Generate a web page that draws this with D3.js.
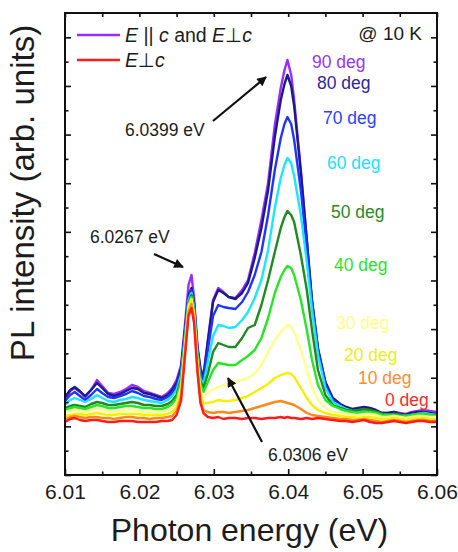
<!DOCTYPE html>
<html>
<head>
<meta charset="utf-8">
<script src="https://cdn.jsdelivr.net/npm/d3@7"></script>
<style>
  body { margin: 0; background: #fff; }
  text { font-family: "Liberation Sans", Arial, "DejaVu Sans", sans-serif; fill: #1c1c1c; }
</style>
</head>
<body>
<div id="chart"></div>
<script>
'use strict';
// photon energy (eV), shared by all spectra
var energy = [6.0100,6.0107,6.0113,6.0120,6.0127,6.0135,6.0143,6.0150,6.0158,6.0166,
  6.0174,6.0182,6.0190,6.0198,6.0206,6.0214,6.0222,6.0230,6.0238,6.0244,
  6.0250,6.0256,6.0262,6.0266,6.0270,6.02735,6.0278,6.0282,6.0286,
  6.0292,6.0299,6.0306,6.0313,6.0320,6.0329,6.0338,6.0346,6.0355,6.0364,6.0373,6.0382,6.0390,6.0395,6.0399,
  6.0404,6.0408,6.0417,6.0425,6.0432,6.0440,6.0450,6.0460,6.0470,
  6.0478,6.0486,6.0494,6.0502,6.0510,6.0518,6.0526,6.0534,6.0542,6.0550,6.0558,6.0566,6.0574,6.0582,6.0590,6.0600];

// PL intensity (arb. units) per polarization angle
var deg90 = [152,168,174,166,156,170,190,178,164,162,166,172,180,176,168,164,160,156,164,174,
  190,220,314,380,400,354,260,214,198,
  270,350,374,366,356,354,370,390,444,510,584,700,774,810,830,
  800,750,610,470,344,250,184,150,140,
  134,130,130,134,132,128,124,124,126,124,122,126,128,130,128,126];
var deg80 = [156,170,176,168,158,170,184,174,162,158,162,168,174,172,164,162,158,154,160,170,
  184,214,300,358,374,344,254,210,196,
  266,346,370,364,356,352,364,384,434,494,570,676,750,782,800,
  778,738,606,470,350,254,186,154,142,
  136,132,134,136,134,130,124,124,126,122,120,124,126,126,124,122];
var deg70 = [148,160,166,158,150,160,172,164,156,154,158,162,168,164,158,156,152,150,156,164,
  178,208,294,354,370,340,250,204,190,
  250,318,340,336,334,332,346,366,400,446,520,610,674,702,716,
  702,670,570,454,346,250,180,150,138,
  132,128,126,130,128,124,120,118,122,116,114,118,122,124,122,120];
var deg60 = [140,150,154,150,146,152,160,154,148,146,150,152,156,154,150,148,146,144,150,158,
  170,200,288,350,364,334,244,194,180,
  226,278,300,298,294,296,310,326,354,390,450,534,594,620,634,
  624,598,520,426,330,240,174,146,138,
  132,128,128,130,128,126,122,120,122,120,118,120,122,124,122,120];
var deg50 = [134,138,140,138,136,142,146,144,140,140,142,144,146,144,140,140,138,138,142,148,
  160,192,282,344,360,328,238,188,174,
  202,246,264,260,256,256,274,294,300,340,390,446,494,516,528,
  520,506,440,370,290,210,160,140,134,
  130,128,130,132,130,126,122,120,122,120,118,120,122,122,120,120];
var deg40 = [130,134,136,134,132,136,140,138,134,134,136,138,138,136,134,134,132,132,136,142,
  154,186,278,342,356,324,234,182,166,
  186,210,224,222,220,220,230,238,250,274,314,364,396,410,418,
  414,400,350,290,230,180,150,138,132,
  128,126,124,126,126,124,120,120,120,118,118,120,122,122,120,118];
var deg30 = [124,128,130,128,126,130,132,130,128,126,128,130,130,128,126,126,126,126,130,134,
  144,176,272,338,352,320,226,170,156,
  164,172,176,180,182,186,190,194,204,220,246,270,286,294,300,
  296,286,250,210,174,150,134,126,124,
  122,120,120,122,122,120,116,116,118,116,114,116,118,118,116,116];
var deg20 = [118,120,122,122,120,122,124,122,120,120,122,122,122,122,120,120,120,120,122,126,
  136,168,266,334,350,316,220,160,144,
  144,146,150,148,148,150,154,158,166,174,182,194,200,202,204,
  202,196,174,154,140,130,124,120,118,
  116,116,114,116,116,114,112,112,114,112,110,112,114,114,112,112];
var deg10 = [112,116,118,116,114,116,116,114,114,112,114,116,116,114,114,112,114,114,116,118,
  128,158,258,326,342,310,214,150,130,
  126,124,126,126,124,126,128,130,134,138,142,146,148,146,144,
  142,140,132,124,120,118,116,114,112,
  112,110,110,112,110,108,106,108,110,108,106,108,110,110,108,108];
var deg0 = [106,112,114,110,108,110,110,108,106,106,108,108,108,106,106,106,106,108,108,110,
  120,148,250,318,334,304,206,144,124,
  116,114,116,112,114,114,112,114,114,112,114,114,116,114,116,
  114,114,112,114,112,114,112,110,108,
  108,106,108,110,106,104,104,106,108,106,104,106,108,108,106,106];

var angles = [90, 80, 70, 60, 50, 40, 30, 20, 10, 0];
var spectra = [deg90, deg80, deg70, deg60, deg50, deg40, deg30, deg20, deg10, deg0];
var xTicks = [6.01, 6.02, 6.03, 6.04, 6.05, 6.06];
var xMinorTicks = [6.015, 6.025, 6.035, 6.045, 6.055];
var peakLabels = ['6.0399 eV', '6.0267 eV', '6.0306 eV'];

var lineColors = ['#9a2cff', '#1a1a8a', '#1f35ff', '#1ae6ff', '#1f8a1f', '#26e626', '#ffff8c', '#f5ef00', '#ff8a1c', '#ff1c1c'];
var labelColors = ['#9933ff', '#2a2a9c', '#2a44ff', '#22e0ff', '#2a8a2a', '#2ae62a', '#ffff80', '#eeee10', '#ff8c30', '#ff2a2a'];

// set the dimensions of the canvas
var W = 458, H = 552;
var margin = {top: 13, right: 21, bottom: 77, left: 65},
    width = W - margin.left - margin.right,
    height = H - margin.top - margin.bottom;

var x = d3.scaleLinear().domain([6.01, 6.06]).range([0, width]);
var y = d3.scaleLinear().domain([0, 924]).range([height, 0]);
var yStep = 924 / 19;
var yMajor = d3.range(0, 19, 2).map(function(i) { return i * yStep; });
var yMinor = d3.range(1, 19, 2).map(function(i) { return i * yStep; });

var svg = d3.select('#chart').append('svg')
    .attr('width', W)
    .attr('height', H)
  .append('g')
    .attr('transform', 'translate(' + margin.left + ',' + margin.top + ')');

svg.append('defs').append('clipPath').attr('id', 'clip')
  .append('rect').attr('width', width).attr('height', height);

svg.select('defs').append('marker')
    .attr('id', 'arrow')
    .attr('viewBox', '0 0 10 10')
    .attr('refX', 9).attr('refY', 5)
    .attr('markerWidth', 5).attr('markerHeight', 4.4)
    .attr('markerUnits', 'strokeWidth')
    .attr('orient', 'auto')
  .append('path')
    .attr('d', 'M0,0L10,5L0,10z')
    .attr('fill', '#111');

// spectra
var line = d3.line()
    .x(function(d) { return x(d[0]); })
    .y(function(d) { return y(d[1]); });

svg.append('g').attr('clip-path', 'url(#clip)')
  .selectAll('path')
  .data(spectra)
  .enter().append('path')
    .attr('d', function(vals) { return line(energy.map(function(e, i) { return [e, vals[i]]; })); })
    .attr('fill', 'none')
    .attr('stroke', function(d, i) { return lineColors[i]; })
    .attr('stroke-width', 2.4)
    .attr('stroke-linejoin', 'round');

// axes with inward ticks
function styleAxis(g) {
  g.select('.domain').remove();
  g.selectAll('.tick line').attr('stroke', '#111').attr('stroke-width', 1.6);
}
svg.append('g').attr('transform', 'translate(0,' + height + ')')
  .call(d3.axisBottom(x).tickValues(xTicks).tickSize(-6).tickPadding(9).tickFormat(d3.format('.2f')))
  .call(styleAxis)
  .selectAll('text').style('font-size', '21px').attr('fill', '#1c1c1c');
svg.append('g').attr('transform', 'translate(0,' + height + ')')
  .call(d3.axisBottom(x).tickValues(xMinorTicks).tickSize(-3.5).tickFormat(''))
  .call(styleAxis);
svg.append('g')
  .call(d3.axisTop(x).tickValues(xTicks.concat(xMinorTicks)).tickSize(-4).tickFormat(''))
  .call(styleAxis);
svg.append('g')
  .call(d3.axisLeft(y).tickValues(yMajor).tickSize(-6).tickFormat(''))
  .call(styleAxis);
svg.append('g')
  .call(d3.axisLeft(y).tickValues(yMinor).tickSize(-3.5).tickFormat(''))
  .call(styleAxis);
svg.append('g').attr('transform', 'translate(' + width + ',0)')
  .call(d3.axisRight(y).tickValues(yMajor).tickSize(-6).tickFormat(''))
  .call(styleAxis);
svg.append('g').attr('transform', 'translate(' + width + ',0)')
  .call(d3.axisRight(y).tickValues(yMinor).tickSize(-3.5).tickFormat(''))
  .call(styleAxis);

// frame
svg.append('rect')
    .attr('width', width).attr('height', height)
    .attr('fill', 'none').attr('stroke', '#111').attr('stroke-width', 2);

// axis titles
svg.append('text')
    .attr('x', x(6.0348)).attr('y', height + 66)
    .style('text-anchor', 'middle').style('font-size', '32px')
    .text('Photon energy (eV)');
svg.append('text')
    .attr('transform', 'translate(' + (-31) + ',' + (y(564)) + ') rotate(-90)')
    .style('text-anchor', 'middle').style('font-size', '33px')
    .text('PL intensity (arb. units)');

// angle labels
var angleLabelPos = [[6.0432, 814], [6.04387, 772], [6.04468, 702], [6.04522, 612], [6.04575, 514],
  [6.04616, 408], [6.04642, 292], [6.0475, 228], [6.04938, 182], [6.05301, 138]];
svg.selectAll('.angle')
  .data(angles)
  .enter().append('text')
    .attr('class', 'angle')
    .attr('x', function(d, i) { return x(angleLabelPos[i][0]); })
    .attr('y', function(d, i) { return y(angleLabelPos[i][1]); })
    .style('font-size', '17.5px')
    .style('fill', function(d, i) { return labelColors[i]; })
    .text(function(d) { return d + ' deg'; });

// peak annotations: text anchor, arrow tail and tip (eV, intensity)
var peakText = [[6.01806, 678], [6.01336, 464], [6.03729, 28]];
var peakArrows = [[[6.02989, 708], [6.03702, 796]], [[6.02196, 442], [6.02586, 416]], [[6.03648, 66], [6.03191, 194]]];
peakLabels.forEach(function(label, i) {
  svg.append('text')
      .attr('x', x(peakText[i][0])).attr('y', y(peakText[i][1]))
      .style('font-size', '17.5px')
      .text(label);
  svg.append('line')
      .attr('x1', x(peakArrows[i][0][0])).attr('y1', y(peakArrows[i][0][1]))
      .attr('x2', x(peakArrows[i][1][0])).attr('y2', y(peakArrows[i][1][1]))
      .attr('stroke', '#111').attr('stroke-width', 2.2)
      .attr('marker-end', 'url(#arrow)');
});

// legend
var legend = svg.append('g').attr('transform', 'translate(12,22)');
legend.append('line').attr('x1', 0).attr('x2', 43).attr('y1', 0).attr('y2', 0)
  .attr('stroke', lineColors[0]).attr('stroke-width', 2.4);
legend.append('line').attr('x1', 0).attr('x2', 43).attr('y1', 25).attr('y2', 25)
  .attr('stroke', lineColors[9]).attr('stroke-width', 2.4);
var t1 = legend.append('text').attr('x', 48).attr('y', 7).style('font-size', '19.5px');
t1.append('tspan').style('font-style', 'italic').text('E');
t1.append('tspan').text(' || ');
t1.append('tspan').style('font-style', 'italic').text('c');
t1.append('tspan').text(' and ');
t1.append('tspan').style('font-style', 'italic').text('E');
t1.append('tspan').text('\u22a5');
t1.append('tspan').style('font-style', 'italic').text('c');
var t2 = legend.append('text').attr('x', 48).attr('y', 32).style('font-size', '19.5px');
t2.append('tspan').style('font-style', 'italic').text('E');
t2.append('tspan').text('\u22a5');
t2.append('tspan').style('font-style', 'italic').text('c');

svg.append('text')
    .attr('x', width - 15).attr('y', 27)
    .style('text-anchor', 'end').style('font-size', '19px')
    .text('@ 10 K');
</script>
</body>
</html>
